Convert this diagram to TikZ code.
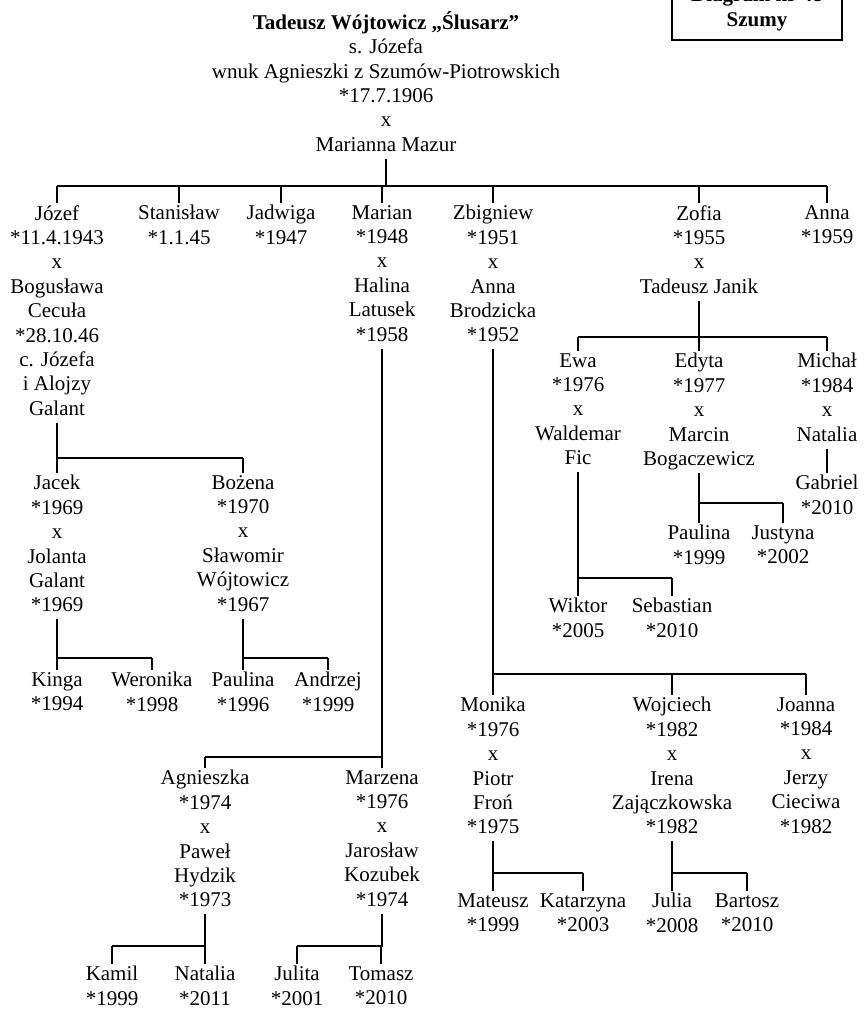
\documentclass[tikz,border=0pt]{standalone}
\usepackage{fontspec}
\setmainfont{Liberation Serif}
\begin{document}
\begin{tikzpicture}[x=0.75pt,y=-0.75pt,
  person/.style={anchor=north,align=center,inner sep=0pt,
    font=\fontsize{15.75pt}{18.3pt}\selectfont,
    execute at begin node=\strut,execute at end node=\strut},
  kin/.style={line width=1.3pt},
  drop/.style={kin,shorten >=1.5pt}]
\useasboundingbox (0,0) rectangle (863,1009);
\clip (0,0) rectangle (863,1009);

% naglowek
\node[draw,line width=1.4pt,anchor=south,align=center,inner xsep=0pt,inner ysep=5pt,
  minimum width=127.5pt,font=\bfseries\fontsize{15.75pt}{18.3pt}\selectfont,
  execute at begin node=\strut,execute at end node=\strut] (diagram) at (757,41) {Diagram nr 48\\Szumy};
\node[person] (tadeusz) at (386,11) {\textbf{Tadeusz Wójtowicz „Ślusarz”}\\s. Józefa\\wnuk Agnieszki z Szumów-Piotrowskich\\*17.7.1906\\x\\Marianna Mazur};

% dzieci
\node[person] (jozef) at (57,205) {Józef\\*11.4.1943\\x\\Bogusława\\Cecuła\\*28.10.46\\c. Józefa\\i Alojzy\\Galant};
\node[person] (stanislaw) at (179,205) {Stanisław\\*1.1.45};
\node[person] (jadwiga) at (281,205) {Jadwiga\\*1947};
\node[person] (marian) at (382,205) {Marian\\*1948\\x\\Halina\\Latusek\\*1958};
\node[person] (zbigniew) at (493,205) {Zbigniew\\*1951\\x\\Anna\\Brodzicka\\*1952};
\node[person] (zofia) at (699,205) {Zofia\\*1955\\x\\Tadeusz Janik};
\node[person] (anna) at (827,205) {Anna\\*1959};

\coordinate (rootbar) at (0,186);
\draw[kin] (tadeusz.south) -- (tadeusz.south |- rootbar);
\draw[kin] (jozef.north |- rootbar) -- (anna.north |- rootbar);
\foreach \k in {jozef,stanislaw,jadwiga,marian,zbigniew,zofia,anna}
  \draw[drop] (\k.north |- rootbar) -- (\k.north);

% Jozef
\node[person] (jacek) at (57,475) {Jacek\\*1969\\x\\Jolanta\\Galant\\*1969};
\node[person] (bozena) at (243,475) {Bożena\\*1970\\x\\Sławomir\\Wójtowicz\\*1967};
\coordinate (jozefbar) at (0,458);
\draw[kin] (jozef.south) -- (jozef.south |- jozefbar) -- (bozena.north |- jozefbar);
\foreach \k in {jacek,bozena}
  \draw[drop] (\k.north |- jozefbar) -- (\k.north);

\node[person] (kinga) at (57,672) {Kinga\\*1994};
\node[person] (weronika) at (152,672) {Weronika\\*1998};
\node[person] (paulinab) at (243,672) {Paulina\\*1996};
\node[person] (andrzej) at (328,672) {Andrzej\\*1999};
\coordinate (jacekbar) at (0,658);
\draw[kin] (jacek.south) -- (jacek.south |- jacekbar) -- (weronika.north |- jacekbar);
\draw[kin] (bozena.south) -- (bozena.south |- jacekbar) -- (andrzej.north |- jacekbar);
\foreach \k in {kinga,weronika,paulinab,andrzej}
  \draw[drop] (\k.north |- jacekbar) -- (\k.north);

% Marian
\node[person] (agnieszka) at (205,770) {Agnieszka\\*1974\\x\\Paweł\\Hydzik\\*1973};
\node[person] (marzena) at (382,770) {Marzena\\*1976\\x\\Jarosław\\Kozubek\\*1974};
\coordinate (marianbar) at (0,757);
\draw[kin] (marian.south) -- (marian.south |- marianbar) -- (agnieszka.north |- marianbar);
\foreach \k in {agnieszka,marzena}
  \draw[drop] (\k.north |- marianbar) -- (\k.north);

\node[person] (kamil) at (112,966) {Kamil\\*1999};
\node[person] (natalia) at (205,966) {Natalia\\*2011};
\node[person] (julita) at (297,966) {Julita\\*2001};
\node[person] (tomasz) at (381,966) {Tomasz\\*2010};
\coordinate (agnbar) at (0,946);
\draw[kin] (agnieszka.south) -- (agnieszka.south |- agnbar) -- (kamil.north |- agnbar);
\draw[kin] (marzena.south) -- (marzena.south |- agnbar) -- (julita.north |- agnbar);
\foreach \k in {kamil,natalia,julita,tomasz}
  \draw[drop] (\k.north |- agnbar) -- (\k.north);

% Zbigniew
\node[person] (monika) at (493,697) {Monika\\*1976\\x\\Piotr\\Froń\\*1975};
\node[person] (wojciech) at (672,697) {Wojciech\\*1982\\x\\Irena\\Zajączkowska\\*1982};
\node[person] (joanna) at (806,697) {Joanna\\*1984\\x\\Jerzy\\Cieciwa\\*1982};
\coordinate (zbigbar) at (0,674);
\draw[kin] (zbigniew.south) -- (zbigniew.south |- zbigbar) -- (joanna.north |- zbigbar);
\foreach \k in {monika,wojciech,joanna}
  \draw[drop] (\k.north |- zbigbar) -- (\k.north);

\node[person] (mateusz) at (493,893) {Mateusz\\*1999};
\node[person] (katarzyna) at (583,893) {Katarzyna\\*2003};
\node[person] (julia) at (672,893) {Julia\\*2008};
\node[person] (bartosz) at (747,893) {Bartosz\\*2010};
\coordinate (monbar) at (0,873);
\draw[kin] (monika.south) -- (monika.south |- monbar) -- (katarzyna.north |- monbar);
\draw[kin] (wojciech.south) -- (wojciech.south |- monbar) -- (bartosz.north |- monbar);
\foreach \k in {mateusz,katarzyna,julia,bartosz}
  \draw[drop] (\k.north |- monbar) -- (\k.north);

% Zofia
\node[person] (ewa) at (578,353) {Ewa\\*1976\\x\\Waldemar\\Fic};
\node[person] (edyta) at (699,353) {Edyta\\*1977\\x\\Marcin\\Bogaczewicz};
\node[person] (michal) at (827,353) {Michał\\*1984\\x\\Natalia};
\coordinate (zofiabar) at (0,337);
\draw[kin] (zofia.south) -- (zofia.south |- zofiabar);
\draw[kin] (ewa.north |- zofiabar) -- (michal.north |- zofiabar);
\foreach \k in {ewa,edyta,michal}
  \draw[drop] (\k.north |- zofiabar) -- (\k.north);

\node[person] (gabriel) at (827,475) {Gabriel\\*2010};
\draw[drop] (michal.south) -- (gabriel.north);

\node[person] (paulinaf) at (699,525) {Paulina\\*1999};
\node[person] (justyna) at (783,525) {Justyna\\*2002};
\coordinate (edytabar) at (0,503);
\draw[kin] (edyta.south) -- (edyta.south |- edytabar) -- (justyna.north |- edytabar);
\foreach \k in {paulinaf,justyna}
  \draw[drop] (\k.north |- edytabar) -- (\k.north);

\node[person] (wiktor) at (578,598) {Wiktor\\*2005};
\node[person] (sebastian) at (672,598) {Sebastian\\*2010};
\coordinate (ewabar) at (0,578);
\draw[kin] (ewa.south) -- (ewa.south |- ewabar) -- (sebastian.north |- ewabar);
\foreach \k in {wiktor,sebastian}
  \draw[drop] (\k.north |- ewabar) -- (\k.north);
\end{tikzpicture}
\end{document}
